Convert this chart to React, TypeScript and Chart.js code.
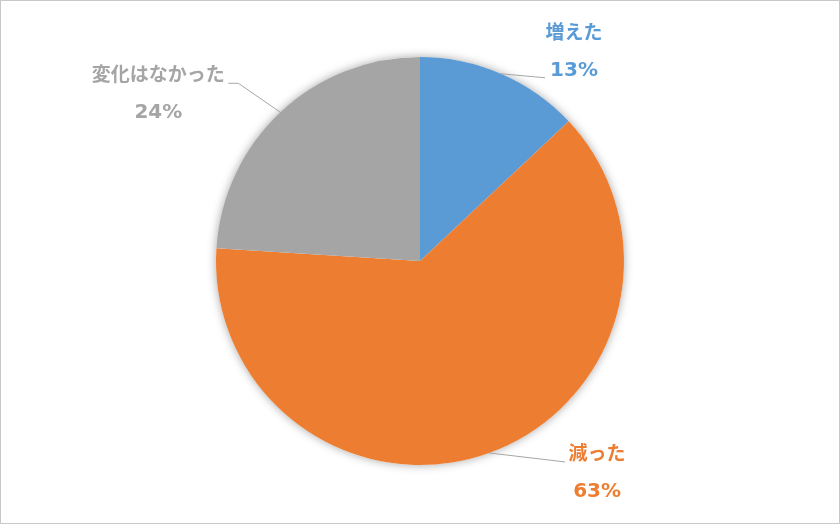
import React, { useEffect, useRef } from "react";
import { Chart, registerables } from "chart.js";

Chart.register(...registerables);

const categories = ["増えた", "減った", "変化はなかった"];
const values = [13, 63, 24];

const sliceColors = ["#5B9BD5", "#ED7D31", "#A5A5A5"];

// per-slice label geometry relative to the arc's outer midpoint
const labelLayout = [
  { leader: [[44, 4]], text: [73, -22] },
  { leader: [[76, 9]], text: [108, 20] },
  { leader: [[-42, -29], [-52, -29]], text: [-122, -18] },
];

const shadowPlugin = {
  id: "pieShadow",
  beforeDatasetsDraw(chart: any) {
    const meta = chart.getDatasetMeta(0);
    const arc = meta.data[0];
    if (!arc) return;
    const ctx = chart.ctx;
    ctx.save();
    ctx.shadowColor = "rgba(0,0,0,0.35)";
    ctx.shadowBlur = 10;
    ctx.shadowOffsetX = 0;
    ctx.shadowOffsetY = 0;
    ctx.fillStyle = "#ffffff";
    ctx.beginPath();
    ctx.arc(arc.x, arc.y, arc.outerRadius, 0, Math.PI * 2);
    ctx.fill();
    ctx.restore();
  },
};

const labelPlugin = {
  id: "pieLabels",
  afterDatasetsDraw(chart: any) {
    const meta = chart.getDatasetMeta(0);
    const ctx = chart.ctx;
    const data = chart.data.datasets[0].data as number[];
    meta.data.forEach((arc: any, i: number) => {
      const mid = (arc.startAngle + arc.endAngle) / 2;
      const px = arc.x + Math.cos(mid) * arc.outerRadius;
      const py = arc.y + Math.sin(mid) * arc.outerRadius;
      const lay = labelLayout[i];
      ctx.save();
      ctx.strokeStyle = "#A6A6A6";
      ctx.lineWidth = 1;
      ctx.beginPath();
      ctx.moveTo(px, py);
      lay.leader.forEach((p) => ctx.lineTo(px + p[0], py + p[1]));
      ctx.stroke();
      const cx = px + lay.text[0];
      const cy = py + lay.text[1];
      ctx.fillStyle = sliceColors[i];
      ctx.textAlign = "center";
      ctx.textBaseline = "middle";
      ctx.font = "bold 19px 'DejaVu Sans', 'Noto Sans CJK JP'";
      ctx.fillText(chart.data.labels[i], cx, cy - 18);
      ctx.font = "bold 20px 'DejaVu Sans', 'Noto Sans CJK JP'";
      ctx.fillText(data[i] + "%", cx, cy + 19);
      ctx.restore();
    });
  },
};

export default function App() {
  const ref = useRef<HTMLCanvasElement | null>(null);
  useEffect(() => {
    document.body.style.margin = "0";
    if (!ref.current) return;
    const chart = new Chart(ref.current, {
      type: "pie",
      data: {
        labels: categories,
        datasets: [
          {
            data: values,
            backgroundColor: sliceColors,
            borderWidth: 0,
          },
        ],
      },
      options: {
        animation: false,
        responsive: false,
        maintainAspectRatio: false,
        layout: { padding: { top: 56, bottom: 58, left: 0, right: 0 } },
        plugins: {
          legend: { display: false },
          tooltip: { enabled: false },
        },
      },
      plugins: [shadowPlugin, labelPlugin],
    });
    return () => chart.destroy();
  }, []);
  return (
    <div
      style={{
        position: "absolute",
        left: 0,
        top: 0,
        width: 840,
        height: 524,
        boxSizing: "border-box",
        border: "1px solid #C8C8C8",
        background: "#fff",
        overflow: "hidden",
      }}
    >
      <canvas ref={ref} width={838} height={522} style={{ display: "block" }} />
    </div>
  );
}
